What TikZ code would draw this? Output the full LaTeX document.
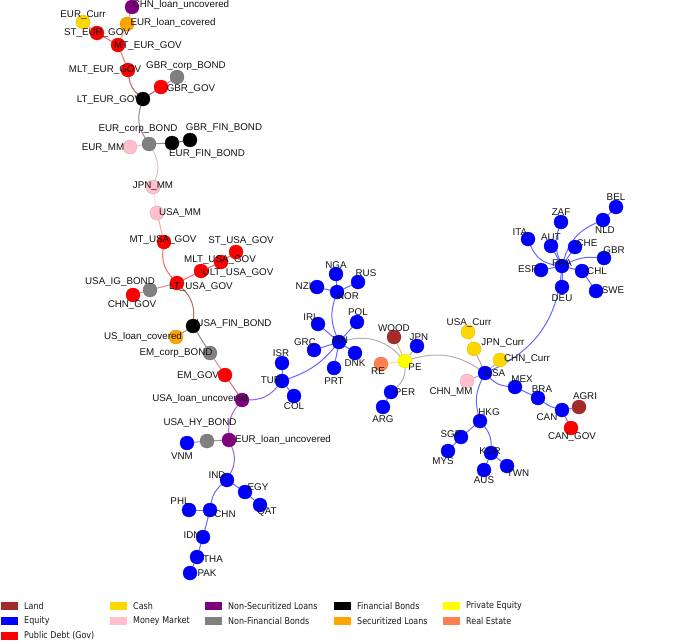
\documentclass[tikz,border=0pt]{standalone}
\usepackage{fontspec}
\setmainfont{Liberation Sans}
\newfontfamily\legfont[FakeStretch=0.86]{DejaVu Sans}
\pgfdeclarelayer{bg}\pgfdeclarelayer{fg}\pgfsetlayers{bg,main,fg}
\definecolor{cLand}{HTML}{A52A2A}
\definecolor{cEq}{HTML}{0000FF}
\definecolor{cGov}{HTML}{FF0000}
\definecolor{cCash}{HTML}{FFD700}
\definecolor{cMM}{HTML}{FFC0CB}
\definecolor{cNSL}{HTML}{800080}
\definecolor{cNFB}{HTML}{808080}
\definecolor{cFB}{HTML}{000000}
\definecolor{cSL}{HTML}{FFA500}
\definecolor{cPE}{HTML}{FFFF00}
\definecolor{cRE}{HTML}{FF7F50}
\tikzset{
 dot/.style={circle, minimum size=14pt, inner sep=0pt, draw=#1!85!black, line width=0.3pt, fill=#1},
 lbl/.style={inner sep=0pt, font=\fontsize{9.8}{11}\selectfont, text=black!92},
 ed/.style={line width=1pt, draw opacity=0.6},
 sw/.style={minimum width=17pt, minimum height=7.5pt, inner sep=0pt, fill=#1},
 legtext/.style={anchor=west, inner sep=0pt, font=\legfont\fontsize{9.3}{10}\selectfont, text=black!90},
}
\newcommand\gn[5]{\node[dot=#2] (#1) at (#3) {};\begin{pgfonlayer}{fg}\node[lbl] (#1L) at (#5) {#4};\end{pgfonlayer}}
\newcommand\ee[4][]{\draw[ed, draw=#4] (#2) to[#1] (#3);}
\begin{document}
\begin{tikzpicture}[x=1pt,y=-1pt]
\begin{pgfonlayer}{bg}
\fill[white] (0,0) rectangle (685,643);
\end{pgfonlayer}
\useasboundingbox (0,0) rectangle (685,643);
% ---- nodes
\gn{CHNlu}{cNSL}{132,7}{CHN\_loan\_uncovered}{181,5}
\gn{EURCurr}{cCash}{83,22}{EUR\_Curr}{83,15}
\gn{EURlc}{cSL}{127,24}{EUR\_loan\_covered}{173,23}
\gn{STEUR}{cGov}{97,33}{ST\_EUR\_GOV}{97,33}
\gn{MTEUR}{cGov}{118,45}{MT\_EUR\_GOV}{148,46}
\gn{MLTEUR}{cGov}{128,70}{MLT\_EUR\_GOV}{105,70}
\gn{GBRcorp}{cNFB}{177,77}{GBR\_corp\_BOND}{186,66}
\gn{GBRGOV}{cGov}{161,87}{GBR\_GOV}{191,89}
\gn{LTEUR}{cFB}{143,99}{LT\_EUR\_GOV}{109,100}
\gn{EURcorp}{cNFB}{149,144}{EUR\_corp\_BOND}{138,129}
\gn{GBRFIN}{cFB}{190,140}{GBR\_FIN\_BOND}{224,128}
\gn{EURFIN}{cFB}{172,143}{EUR\_FIN\_BOND}{207,154}
\gn{EURMM}{cMM}{130,147}{EUR\_MM}{103,148}
\gn{JPNMM}{cMM}{153,187}{JPN\_MM}{153,186}
\gn{USAMM}{cMM}{157,213}{USA\_MM}{180,213}
\gn{MTUSA}{cGov}{164,242}{MT\_USA\_GOV}{163,240}
\gn{STUSA}{cGov}{236,252}{ST\_USA\_GOV}{241,241}
\gn{MLTUSA}{cGov}{221,262}{MLT\_USA\_GOV}{220,260}
\gn{ULTUSA}{cGov}{201,271}{ULT\_USA\_GOV}{238,273}
\gn{LTUSA}{cGov}{177,283}{LT\_USA\_GOV}{201,287}
\gn{USAIG}{cNFB}{150,290}{USA\_IG\_BOND}{120,282}
\gn{CHNGOV}{cGov}{133,295}{CHN\_GOV}{132,305}
\gn{USAFIN}{cFB}{193,326}{USA\_FIN\_BOND}{234,324}
\gn{USlc}{cSL}{176,337}{US\_loan\_covered}{143,337}
\gn{EMcorp}{cNFB}{210,353}{EM\_corp\_BOND}{176,353}
\gn{EMGOV}{cGov}{225,375}{EM\_GOV}{198,376}
\gn{USAlu}{cNSL}{242,400}{USA\_loan\_uncovered}{200,399}
\gn{TUR}{cEq}{282,381}{TUR}{271,380}
\gn{COL}{cEq}{294,396}{COL}{294,406}
\gn{ISR}{cEq}{282,363}{ISR}{281,353}
\gn{USAHY}{cNFB}{207,441}{USA\_HY\_BOND}{200,423}
\gn{VNM}{cEq}{187,443}{VNM}{182,456}
\gn{EURlu}{cNSL}{229,440}{EUR\_loan\_uncovered}{283,440}
\gn{IND}{cEq}{227,480}{IND}{217,475}
\gn{EGY}{cEq}{245,492}{EGY}{258,487}
\gn{QAT}{cEq}{260,505}{QAT}{267,512}
\gn{PHL}{cEq}{189,510}{PHL}{180,501}
\gn{CHN}{cEq}{210,510}{CHN}{225,514}
\gn{IDN}{cEq}{203,537}{IDN}{192,535}
\gn{THA}{cEq}{197,557}{THA}{213,559}
\gn{PAK}{cEq}{190,573}{PAK}{207,573}
\gn{NGA}{cEq}{336,274}{NGA}{336,265}
\gn{RUS}{cEq}{358,282}{RUS}{366,273}
\gn{NZL}{cEq}{317,287}{NZL}{305,286}
\gn{NOR}{cEq}{337,292}{NOR}{348,296}
\gn{IRL}{cEq}{318,324}{IRL}{311,317}
\gn{POL}{cEq}{357,322}{POL}{358,312}
\gn{GRC}{cEq}{314,350}{GRC}{305,342}
\gn{FIN}{cEq}{339,342}{FIN}{340,340}
\gn{DNK}{cEq}{355,353}{DNK}{355,363}
\gn{PRT}{cEq}{334,368}{PRT}{334,381}
\gn{WOOD}{cLand}{394,337}{WOOD}{394,328}
\gn{JPN}{cEq}{417,346}{JPN}{419,337}
\gn{RE}{cRE}{381,364}{RE}{378,371}
\gn{PE}{cPE}{405,361}{PE}{415,367}
\gn{PER}{cEq}{391,392}{PER}{405,392}
\gn{ARG}{cEq}{383,407}{ARG}{383,419}
\gn{CHNMM}{cMM}{467,381}{CHN\_MM}{451,392}
\gn{USACurr}{cCash}{468,332}{USA\_Curr}{469,323}
\gn{JPNCurr}{cCash}{474,349}{JPN\_Curr}{503,343}
\gn{CHNCurr}{cCash}{500,360}{CHN\_Curr}{527,359}
\gn{USA}{cEq}{485,373}{USA}{495,373}
\gn{MEX}{cEq}{515,387}{MEX}{522,379}
\gn{BRA}{cEq}{538,398}{BRA}{542,389}
\gn{CAN}{cEq}{562,410}{CAN}{547,417}
\gn{AGRI}{cLand}{579,407}{AGRI}{585,396}
\gn{CANGOV}{cGov}{571,428}{CAN\_GOV}{572,437}
\gn{HKG}{cEq}{480,421}{HKG}{489,412}
\gn{SGP}{cEq}{461,437}{SGP}{451,434}
\gn{MYS}{cEq}{448,451}{MYS}{443,461}
\gn{KOR}{cEq}{491,453}{KOR}{490,451}
\gn{AUS}{cEq}{484,470}{AUS}{484,480}
\gn{TWN}{cEq}{507,466}{TWN}{518,473}
\gn{BEL}{cEq}{616,207}{BEL}{616,197}
\gn{NLD}{cEq}{603,220}{NLD}{605,230}
\gn{ZAF}{cEq}{561,222}{ZAF}{561,212}
\gn{ITA}{cEq}{528,239}{ITA}{520,232}
\gn{AUT}{cEq}{551,246}{AUT}{551,237}
\gn{CHE}{cEq}{575,247}{CHE}{587,243}
\gn{GBR}{cEq}{604,258}{GBR}{614,250}
\gn{FRA}{cEq}{562,266}{FRA}{562,263}
\gn{ESP}{cEq}{541,270}{ESP}{528,269}
\gn{CHL}{cEq}{582,271}{CHL}{597,271}
\gn{DEU}{cEq}{562,287}{DEU}{562,298}
\gn{SWE}{cEq}{596,291}{SWE}{613,290}
% ---- edges
\begin{pgfonlayer}{bg}
\ee{CHNlu}{EURlc}{cNSL!50!cSL}
\ee{EURlc}{MTEUR}{cSL!50!cGov}
\ee{EURCurr}{STEUR}{cCash!50!cGov}
\ee{STEUR}{MTEUR}{cGov}
\ee{MTEUR}{MLTEUR}{cGov}
\ee[bend right=20]{MLTEUR}{LTEUR}{cGov!50!cFB}
\ee{LTEUR}{GBRGOV}{cFB!50!cGov}
\ee{GBRGOV}{GBRcorp}{cGov!50!cNFB}
\ee[bend right=25]{LTEUR}{EURcorp}{cFB!50!cNFB}
\ee{EURcorp}{EURFIN}{cNFB!50!cFB}
\ee{EURFIN}{GBRFIN}{cFB}
\ee{EURcorp}{EURMM}{cNFB!50!cMM}
\ee[bend left=25]{EURcorp}{JPNMM}{cNFB!50!cMM}
\ee{JPNMM}{USAMM}{cMM}
\ee{USAMM}{MTUSA}{cMM!50!cGov}
\ee[bend right=25]{MTUSA}{LTUSA}{cGov}
\ee{LTUSA}{ULTUSA}{cGov}
\ee{ULTUSA}{MLTUSA}{cGov}
\ee{MLTUSA}{STUSA}{cGov}
\ee{LTUSA}{USAIG}{cGov!50!cNFB}
\ee{USAIG}{CHNGOV}{cNFB!50!cGov}
\ee[bend left=25]{LTUSA}{USAFIN}{cGov!50!cFB}
\ee{USAFIN}{USlc}{cFB!50!cSL}
\ee{USAFIN}{EMcorp}{cFB!50!cNFB}
\ee{EMcorp}{EMGOV}{cNFB!50!cGov}
\ee{EMGOV}{USAlu}{cGov!50!cNSL}
\ee[bend right=25]{USAlu}{TUR}{cNSL!50!cEq}
\ee[bend right=20]{USAlu}{EURlu}{cNSL}
\ee{EURlu}{USAHY}{cNSL!50!cNFB}
\ee{USAHY}{VNM}{cNFB!50!cEq}
\ee[bend left=25]{EURlu}{IND}{cNSL!50!cEq}
\ee{IND}{EGY}{cEq}
\ee{EGY}{QAT}{cEq}
\ee[bend right=20]{IND}{CHN}{cEq}
\ee{CHN}{PHL}{cEq}
\ee{CHN}{IDN}{cEq}
\ee{IDN}{THA}{cEq}
\ee{THA}{PAK}{cEq}
\ee{TUR}{ISR}{cEq}
\ee{TUR}{COL}{cEq}
\ee[bend left=15]{FIN}{TUR}{cEq}
\ee[bend left=20]{FIN}{NOR}{cEq}
\ee{NOR}{NGA}{cEq}
\ee{NOR}{NZL}{cEq}
\ee{NOR}{RUS}{cEq}
\ee{FIN}{IRL}{cEq}
\ee{FIN}{POL}{cEq}
\ee{FIN}{GRC}{cEq}
\ee{FIN}{DNK}{cEq}
\ee{FIN}{PRT}{cEq}
\ee[bend left=30]{FIN}{PE}{cEq!50!cPE}
\ee{PE}{WOOD}{cPE!50!cLand}
\ee{PE}{RE}{cPE!50!cRE}
\ee{PE}{JPN}{cPE!50!cEq}
\ee[bend left=25]{PE}{PER}{cPE!50!cEq}
\ee{PER}{ARG}{cEq}
\ee[bend left=25]{PE}{USA}{cPE!50!cEq}
\ee{USA}{JPNCurr}{cEq!50!cCash}
\ee{JPNCurr}{USACurr}{cCash}
\ee{USA}{CHNCurr}{cEq!50!cCash}
\ee{USA}{CHNMM}{cEq!50!cMM}
\ee[bend right=20]{USA}{MEX}{cEq}
\ee{MEX}{BRA}{cEq}
\ee[bend right=10]{BRA}{CAN}{cEq}
\ee{CAN}{AGRI}{cEq!50!cLand}
\ee{CAN}{CANGOV}{cEq!50!cGov}
\ee[bend right=20]{USA}{HKG}{cEq}
\ee{HKG}{SGP}{cEq}
\ee{SGP}{MYS}{cEq}
\ee[bend left=20]{HKG}{KOR}{cEq}
\ee{KOR}{AUS}{cEq}
\ee{KOR}{TWN}{cEq}
\ee[bend right=30]{USA}{FRA}{cEq}
\ee{DEU}{FRA}{cEq}
\ee[bend left=25]{FRA}{NLD}{cEq}
\ee{NLD}{BEL}{cEq}
\ee[bend right=20]{ZAF}{FRA}{cEq}
\ee{AUT}{FRA}{cEq}
\ee[bend right=30]{ITA}{FRA}{cEq}
\ee{ESP}{FRA}{cEq}
\ee{CHE}{FRA}{cEq}
\ee[bend right=15]{GBR}{FRA}{cEq}
\ee{CHL}{FRA}{cEq}
\ee{CHL}{SWE}{cEq}
\end{pgfonlayer}
% ---- legend
\node[sw=cLand] (s1) at (9,606) {};  \node[legtext] (t1) at (24,606) {Land};
\node[sw=cEq] (s2) at (9,621) {};    \node[legtext] (t2) at (24,621) {Equity};
\node[sw=cGov] (s3) at (9,636) {};   \node[legtext] (t3) at (24,636) {Public Debt (Gov)};
\node[sw=cCash] (s4) at (118.5,606) {}; \node[legtext] (t4) at (133,606) {Cash};
\node[sw=cMM] (s5) at (118.5,621) {};   \node[legtext] (t5) at (133,621) {Money Market};
\node[sw=cNSL] (s6) at (213.5,606) {};  \node[legtext] (t6) at (228,606) {Non-Securitized Loans};
\node[sw=cNFB] (s7) at (213.5,621) {};  \node[legtext] (t7) at (228,621) {Non-Financial Bonds};
\node[sw=cFB] (s8) at (342,606) {};     \node[legtext] (t8) at (357,606) {Financial Bonds};
\node[sw=cSL] (s9) at (342,621) {};     \node[legtext] (t9) at (357,621) {Securitized Loans};
\node[sw=cPE] (s10) at (451.5,606) {};  \node[legtext] (t10) at (466,606) {Private Equity};
\node[sw=cRE] (s11) at (451.5,621) {};  \node[legtext] (t11) at (466,621) {Real Estate};
\end{tikzpicture}
\end{document}
